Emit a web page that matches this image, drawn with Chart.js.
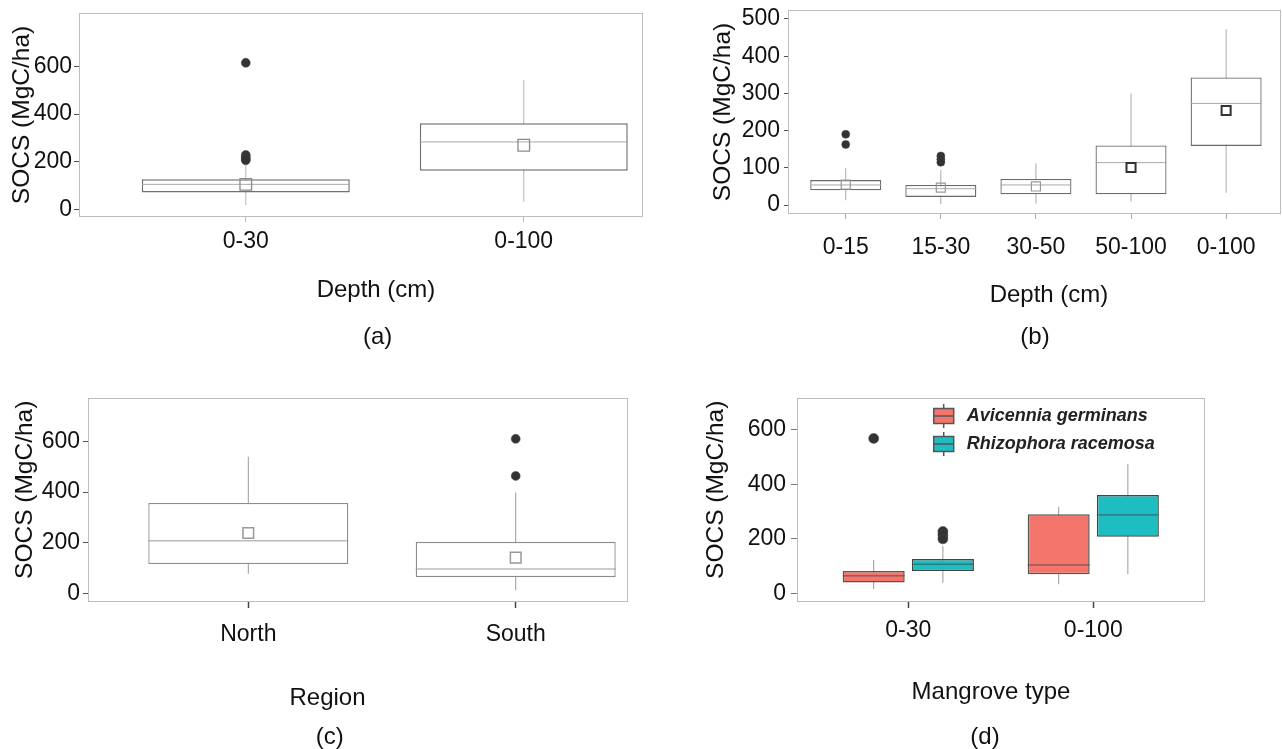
<!DOCTYPE html>
<html>
<head>
<meta charset="utf-8">
<script src="https://cdn.jsdelivr.net/npm/chart.js@4.4.1/dist/chart.umd.min.js"></script>
<style>
  html, body { margin: 0; padding: 0; background: #fff; }
  body { width: 1282px; height: 749px; position: relative; overflow: hidden; }
  canvas { position: absolute; }
  #chartA { left: 0; top: 0; }
  #chartB { left: 650px; top: 0; }
  #chartC { left: 0; top: 375px; }
  #chartD { left: 650px; top: 375px; }
</style>
</head>
<body>
<canvas id="chartA" width="650" height="375"></canvas>
<canvas id="chartB" width="632" height="375"></canvas>
<canvas id="chartC" width="650" height="374"></canvas>
<canvas id="chartD" width="632" height="374"></canvas>
<script>
// (a) SOCS by depth interval
const depthA = ['0-30', '0-100'];
const depthAMin = [18, 32];
const depthAQ1 = [71, 162];
const depthAMedian = [105, 283];
const depthAQ3 = [126, 361];
const depthAMax = [186, 543];
const depthAMean = [105, 269];
const depthAOutliers = [[615, 228, 220, 212, 206], []];
const yTicksA = [0, 200, 400, 600];

// (b) SOCS by depth layer
const depthB = ['0-15', '15-30', '30-50', '50-100', '0-100'];
const depthBMin = [13, 3, 4, 9, 33];
const depthBQ1 = [40, 22, 29, 29, 159];
const depthBMedian = [54, 44, 54, 114, 273];
const depthBQ3 = [67, 54, 70, 160, 343];
const depthBMax = [99, 94, 112, 300, 473];
const depthBMean = [55, 47, 50, 101, 254];
const depthBOutliers = [[190, 163], [132, 123, 115], [], [], []];
const yTicksB = [0, 100, 200, 300, 400, 500];

// (c) SOCS by region
const regions = ['North', 'South'];
const regionMin = [78, 13];
const regionQ1 = [117, 65];
const regionMedian = [208, 97];
const regionQ3 = [357, 204];
const regionMax = [539, 399];
const regionMean = [239, 142];
const regionOutliers = [[], [610, 464]];
const yTicksC = [0, 200, 400, 600];

// (d) SOCS by mangrove type and depth
const mangroveDepths = ['0-30', '0-100'];
const species = ['Avicennia germinans', 'Rhizophora racemosa'];
const speciesColors = ['#f4756c', '#1dbdc2'];
const avicenniaMin = [16, 33];
const avicenniaQ1 = [40, 70];
const avicenniaMedian = [64, 104];
const avicenniaQ3 = [82, 290];
const avicenniaMax = [122, 318];
const avicenniaOutliers = [[569], []];
const rhizophoraMin = [39, 71];
const rhizophoraQ1 = [82, 208];
const rhizophoraMedian = [107, 288];
const rhizophoraQ3 = [126, 361];
const rhizophoraMax = [174, 475];
const rhizophoraOutliers = [[227, 214, 200], []];
const yTicksD = [0, 200, 400, 600];

const FONT = "'Liberation Sans', Arial, sans-serif";

// Box plot pieces: whisker (thin floating bar), box (floating bar), median (line point)
function boxDatasets(xs, mins, q1s, medians, q3s, maxs, st) {
    return [
        {
            type: 'bar',
            data: xs.map((x, i) => ({ x: x, y: [mins[i], maxs[i]] })),
            barThickness: 1,
            backgroundColor: st.whisker,
            borderWidth: 0,
            inflateAmount: 0,
            grouped: false,
            order: 5
        },
        {
            type: 'bar',
            data: xs.map((x, i) => ({ x: x, y: [q1s[i], q3s[i]] })),
            barThickness: st.width,
            backgroundColor: st.fill,
            borderColor: st.stroke,
            borderWidth: st.strokeWidth,
            borderSkipped: false,
            inflateAmount: 0,
            grouped: false,
            order: 4
        },
        {
            type: 'scatter',
            data: xs.map((x, i) => ({ x: x, y: medians[i] })),
            pointStyle: 'line',
            pointRadius: st.width / 2,
            pointBorderColor: st.median,
            pointBorderWidth: st.medianWidth || 1,
            order: 3
        }
    ];
}

function meanDataset(xs, means, colors, widths, radius) {
    return {
        type: 'scatter',
        data: xs.map((x, i) => ({ x: x, y: means[i] })),
        pointStyle: 'rect',
        pointRadius: radius,
        pointBackgroundColor: 'rgba(255,255,255,0)',
        pointBorderColor: colors,
        pointBorderWidth: widths,
        order: 1
    };
}

function outlierDataset(xs, outliers, radius) {
    return {
        type: 'scatter',
        data: outliers.flatMap((vals, i) => vals.map(v => ({ x: xs[i], y: v }))),
        pointStyle: 'circle',
        pointRadius: radius,
        pointBackgroundColor: '#333',
        pointBorderColor: '#444',
        pointBorderWidth: 0.5,
        order: 0
    };
}

// Frame around the plot area
const framePlugin = {
    id: 'frame',
    beforeDatasetsDraw(chart) {
        const { ctx, chartArea: a } = chart;
        ctx.save();
        ctx.strokeStyle = '#bdbdbd';
        ctx.lineWidth = 1;
        ctx.strokeRect(a.left + 0.5, a.top + 0.5, a.right - a.left - 1, a.bottom - a.top - 1);
        ctx.restore();
    }
};

// x axis title and panel letter
function captionPlugin(items) {
    return {
        id: 'captions',
        afterDraw(chart) {
            const ctx = chart.ctx;
            ctx.save();
            ctx.fillStyle = '#111';
            ctx.textAlign = 'center';
            ctx.textBaseline = 'middle';
            ctx.font = '24px ' + FONT;
            items.forEach(it => ctx.fillText(it.text, it.x, it.y));
            ctx.restore();
        }
    };
}

// Legend with small box plot glyphs, drawn inside the plot
function boxLegendPlugin(labels, colors, pos) {
    return {
        id: 'boxLegend',
        afterDraw(chart) {
            const ctx = chart.ctx;
            ctx.save();
            labels.forEach((label, i) => {
                const cx = pos.x;
                const cy = pos.y + i * pos.rowGap;
                ctx.strokeStyle = '#555';
                ctx.lineWidth = 1.5;
                ctx.beginPath();
                ctx.moveTo(cx, cy - 12);
                ctx.lineTo(cx, cy + 12);
                ctx.stroke();
                ctx.fillStyle = colors[i];
                ctx.fillRect(cx - 10, cy - 7.5, 20, 15);
                ctx.strokeRect(cx - 10, cy - 7.5, 20, 15);
                ctx.beginPath();
                ctx.moveTo(cx - 10, cy);
                ctx.lineTo(cx + 10, cy);
                ctx.stroke();
                ctx.fillStyle = '#222';
                ctx.font = 'italic bold 18px ' + FONT;
                ctx.textAlign = 'left';
                ctx.textBaseline = 'middle';
                ctx.fillText(label, pos.textX, cy);
            });
            ctx.restore();
        }
    };
}

function yScale(tickValues, min, max, o) {
    return {
        type: 'linear',
        min: min,
        max: max,
        afterBuildTicks: s => { s.ticks = tickValues.map(v => ({ value: v })); },
        afterFit: s => { s.width = o.width; s.paddingTop = 0; s.paddingBottom = 0; },
        border: { display: false },
        grid: { drawOnChartArea: false, drawTicks: true, tickLength: o.tickLength, tickColor: o.tickColor, tickWidth: 1 },
        ticks: { color: '#111', font: { family: FONT, size: 23 }, padding: o.pad },
        title: {
            display: true,
            // leading spaces nudge the rotated title upward where the original sits higher
            text: (o.titleLead || '') + 'SOCS (MgC/ha)',
            color: '#111',
            font: { family: FONT, size: 24.5 },
            padding: { top: o.titlePad, bottom: 0 }
        }
    };
}

function xScale(labels, min, max, o) {
    return {
        type: 'linear',
        min: min,
        max: max,
        offset: false,
        afterBuildTicks: s => { s.ticks = labels.map((_, i) => ({ value: i })); },
        afterFit: s => { s.height = 60; s.paddingLeft = 0; s.paddingRight = 0; },
        border: { display: false },
        grid: { offset: false, drawOnChartArea: false, drawTicks: true, tickLength: o.tickLength, tickColor: o.tickColor, tickWidth: o.tickWidth || 1 },
        ticks: {
            color: '#111',
            font: { family: FONT, size: 23 },
            padding: o.pad,
            maxRotation: 0,
            autoSkip: false,
            callback: v => labels[Math.round(v)]
        }
    };
}

function panelOptions(pad, x, y) {
    return {
        responsive: false,
        animation: false,
        events: [],
        layout: { autoPadding: false, padding: { left: 0, top: pad.top, right: pad.right, bottom: pad.bottom } },
        plugins: {
            legend: { display: false },
            tooltip: { enabled: false }
        },
        scales: { x: x, y: y }
    };
}

// Panel (a)
const xsA = depthA.map((_, i) => i);
new Chart(document.getElementById('chartA'), {
    type: 'bar',
    data: {
        datasets: [
            ...boxDatasets(xsA, depthAMin, depthAQ1, depthAMedian, depthAQ3, depthAMax,
                { width: 208, fill: '#fff', stroke: '#707070', strokeWidth: 1.5, median: '#aaa', whisker: '#b5b5b5' }),
            meanDataset(xsA, depthAMean, ['#8a8a8a', '#8a8a8a'], [1.3, 1.3], 8.2),
            outlierDataset(xsA, depthAOutliers, 4.5)
        ]
    },
    options: panelOptions({ top: 13, right: 7, bottom: 98 },
        xScale(depthA, -0.6, 1.429, { tickLength: 5, pad: 6, tickColor: '#bbb' }),
        yScale(yTicksA, -32, 824, { width: 79, tickLength: 5, pad: 2, tickColor: '#555', titlePad: 7.3 })),
    plugins: [framePlugin, captionPlugin([
        { text: 'Depth (cm)', x: 376, y: 290 },
        { text: '(a)', x: 377.6, y: 337 }
    ])]
});

// Panel (b)
const xsB = depthB.map((_, i) => i);
new Chart(document.getElementById('chartB'), {
    type: 'bar',
    data: {
        datasets: [
            ...boxDatasets(xsB, depthBMin, depthBQ1, depthBMedian, depthBQ3, depthBMax,
                { width: 71, fill: '#fff', stroke: '#6a6a6a', strokeWidth: 1.3, median: '#aaa', whisker: '#aaa' }),
            meanDataset(xsB, depthBMean, ['#999', '#999', '#999', '#333', '#333'], [1.2, 1.2, 1.2, 2, 2], 6.4),
            outlierDataset(xsB, depthBOutliers, 4)
        ]
    },
    options: panelOptions({ top: 10, right: 1, bottom: 101 },
        xScale(depthB, -0.607, 4.577, { tickLength: 5, pad: 15, tickColor: '#aaa' }),
        yScale(yTicksB, -24, 524, { width: 138, tickLength: 4, pad: 4, tickColor: '#555', titlePad: 58.3 })),
    plugins: [framePlugin, captionPlugin([
        { text: 'Depth (cm)', x: 399, y: 295 },
        { text: '(b)', x: 385, y: 337 }
    ])]
});

// Panel (c)
const xsC = regions.map((_, i) => i);
new Chart(document.getElementById('chartC'), {
    type: 'bar',
    data: {
        datasets: [
            ...boxDatasets(xsC, regionMin, regionQ1, regionMedian, regionQ3, regionMax,
                { width: 200, fill: '#fff', stroke: '#8c8c8c', strokeWidth: 1.3, median: '#999', whisker: '#999' }),
            meanDataset(xsC, regionMean, ['#999', '#999'], [1.5, 1.5], 7.5),
            outlierDataset(xsC, regionOutliers, 4.5)
        ]
    },
    options: panelOptions({ top: 23, right: 22, bottom: 87 },
        xScale(regions, -0.5995, 1.42, { tickLength: 6, pad: 13, tickColor: '#444', tickWidth: 1.5 }),
        yScale(yTicksC, -33, 771, { width: 88, tickLength: 5, pad: 3, tickColor: '#555', titlePad: 10.3, titleLead: '   ' })),
    plugins: [framePlugin, captionPlugin([
        { text: 'Region', x: 327.5, y: 323 },
        { text: '(c)', x: 329.8, y: 362 }
    ])]
});

// Panel (d): two species side by side in each depth group
const groupOffset = 0.187;
const xsAvicennia = mangroveDepths.map((_, i) => i - groupOffset);
const xsRhizophora = mangroveDepths.map((_, i) => i + groupOffset);
new Chart(document.getElementById('chartD'), {
    type: 'bar',
    data: {
        datasets: [
            ...boxDatasets(xsAvicennia, avicenniaMin, avicenniaQ1, avicenniaMedian, avicenniaQ3, avicenniaMax,
                { width: 62, fill: speciesColors[0], stroke: '#555', strokeWidth: 1.5, median: '#6b4a47', whisker: '#999' }),
            ...boxDatasets(xsRhizophora, rhizophoraMin, rhizophoraQ1, rhizophoraMedian, rhizophoraQ3, rhizophoraMax,
                { width: 62, fill: speciesColors[1], stroke: '#444', strokeWidth: 1.5, median: '#2f5f60', whisker: '#999' }),
            outlierDataset(xsAvicennia, avicenniaOutliers, 5),
            outlierDataset(xsRhizophora, rhizophoraOutliers, 5)
        ]
    },
    options: panelOptions({ top: 23, right: 77, bottom: 87 },
        xScale(mangroveDepths, -0.6016, 1.604, { tickLength: 6, pad: 9, tickColor: '#444', tickWidth: 1.5 }),
        yScale(yTicksD, -32, 717.5, { width: 147, tickLength: 6, pad: 5, tickColor: '#777', titlePad: 52, titleLead: '   ' })),
    plugins: [framePlugin, captionPlugin([
        { text: 'Mangrove type', x: 341, y: 317 },
        { text: '(d)', x: 335, y: 362 }
    ]), boxLegendPlugin(species, speciesColors, { x: 293.7, y: 41, rowGap: 28, textX: 316.7 })]
});
</script>
</body>
</html>
